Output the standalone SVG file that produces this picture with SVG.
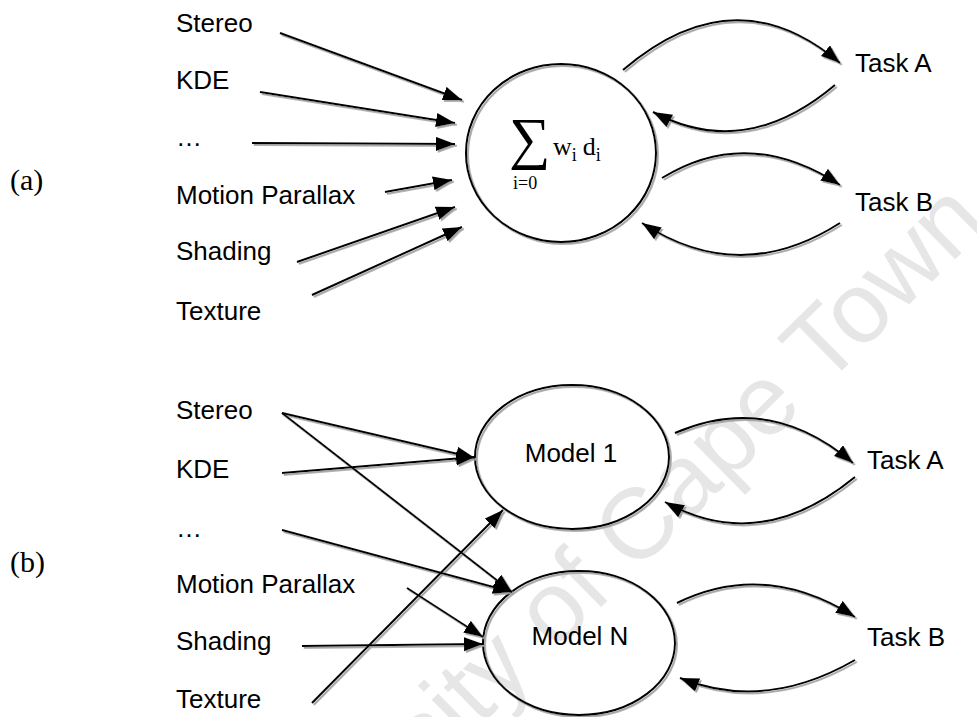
<svg xmlns="http://www.w3.org/2000/svg" width="977" height="717" viewBox="0 0 977 717">
<style>
.lbl{font-family:"Liberation Sans",Arial,sans-serif;font-size:26px;fill:#000}
.ser{font-family:"Liberation Serif","Times New Roman",serif;fill:#000}
.ln{fill:none;stroke:#000;stroke-width:2;marker-end:url(#ah)}
.nd{fill:none;stroke:#000;stroke-width:2}
.wm{font-family:"Liberation Sans",Arial,sans-serif;font-size:100px;fill:#e6e6e6}
</style>
<defs>
<marker id="ah" markerUnits="userSpaceOnUse" markerWidth="22" markerHeight="16" refX="19" refY="7" orient="auto">
<path d="M0,0 L19,7 L0,14 z" fill="#000"/>
</marker>
<filter id="sh" x="-10%" y="-10%" width="120%" height="120%">
<feDropShadow dx="1.8" dy="1.8" stdDeviation="0.6" flood-color="#a0a0a0"/>
</filter>
</defs>
<rect width="977" height="717" fill="#fff"/>
<text class="wm" x="990" y="225" text-anchor="end" transform="rotate(-44.5 990 225)">University of Cape Town</text>

<g id="part-labels">
<text class="ser" x="10" y="190" font-size="30">(a)</text>
<text class="ser" x="10" y="572" font-size="30">(b)</text>
</g>

<g id="a-inputs">
<text class="lbl" x="176" y="32">Stereo</text>
<text class="lbl" x="176" y="89">KDE</text>
<text class="lbl" x="176" y="146">…</text>
<text class="lbl" x="176" y="204">Motion Parallax</text>
<text class="lbl" x="176" y="260">Shading</text>
<text class="lbl" x="176" y="320">Texture</text>
</g>

<g id="a-sum" filter="url(#sh)">
<ellipse class="nd" cx="561" cy="153" rx="95" ry="89"/>
</g>
<g id="a-sum-label">
<text class="ser" x="509" y="158" font-size="58">∑</text>
<text class="ser" x="553" y="155" font-size="26">w<tspan font-size="18" dy="6">i</tspan><tspan dy="-6" dx="6">d</tspan><tspan font-size="18" dy="6">i</tspan></text>
<text class="ser" x="513" y="189" font-size="18">i=0</text>
</g>

<g id="a-taskA"><text class="lbl" x="855" y="72">Task A</text></g>
<g id="a-taskB"><text class="lbl" x="855" y="211">Task B</text></g>

<g id="b-inputs">
<text class="lbl" x="176" y="419">Stereo</text>
<text class="lbl" x="176" y="478">KDE</text>
<text class="lbl" x="176" y="537">…</text>
<text class="lbl" x="176" y="593">Motion Parallax</text>
<text class="lbl" x="176" y="650">Shading</text>
<text class="lbl" x="176" y="708">Texture</text>
</g>

<g id="b-model1">
<ellipse class="nd" cx="572" cy="457" rx="97" ry="72" filter="url(#sh)"/>
<text class="lbl" x="571" y="462" text-anchor="middle">Model 1</text>
</g>
<g id="b-modelN">
<ellipse class="nd" cx="579" cy="643" rx="96" ry="72" filter="url(#sh)"/>
<text class="lbl" x="580" y="645" text-anchor="middle">Model N</text>
</g>
<g id="b-taskA"><text class="lbl" x="867" y="469">Task A</text></g>
<g id="b-taskB"><text class="lbl" x="867" y="646">Task B</text></g>

<g id="connectors" filter="url(#sh)">
<path class="ln" d="M280,33 L462,100"/>
<path class="ln" d="M260,92 L455,123"/>
<path class="ln" d="M252,143 L455,144"/>
<path class="ln" d="M385,192 L452,180"/>
<path class="ln" d="M297,262 L455,207"/>
<path class="ln" d="M312,295 L462,227"/>
<path class="ln" d="M623,70 Q735,-26 840,63"/>
<path class="ln" d="M835,85 Q745,161 653,112"/>
<path class="ln" d="M662,178 Q748,125 840,185"/>
<path class="ln" d="M840,223 Q740,287 642,223"/>

<path class="ln" d="M282,413 L475,458"/>
<path class="ln" d="M282,413 L512,592"/>
<path class="ln" d="M282,473 L475,457"/>
<path class="ln" d="M282,530 L512,592"/>
<path class="ln" d="M407,588 L483,637"/>
<path class="ln" d="M302,646 L483,644"/>
<path class="ln" d="M312,703 L503,510"/>
<path class="ln" d="M675,433 Q770,392 853,463"/>
<path class="ln" d="M855,477 Q760,555 665,502"/>
<path class="ln" d="M677,603 Q765,560 855,617"/>
<path class="ln" d="M855,660 Q765,712 680,678"/>
</g>
</svg>
